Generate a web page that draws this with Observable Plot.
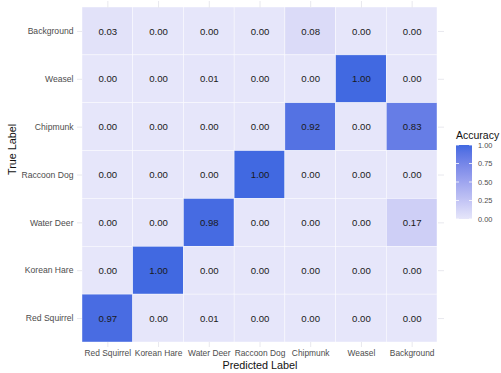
<!DOCTYPE html>
<html>
<head>
<meta charset="utf-8">
<script src="https://cdn.jsdelivr.net/npm/d3@7"></script>
<script src="https://cdn.jsdelivr.net/npm/@observablehq/plot@0.6"></script>
<style>
  html, body { margin: 0; padding: 0; background: #fff; }
  #chart { width: 501px; height: 373px; }
  svg { font-family: Arial, "Liberation Sans", Helvetica, sans-serif; }
</style>
</head>
<body>
<div id="chart"></div>
<script>
// Predicted classes (columns) and true classes (rows, top to bottom)
const predictedLabels = ["Red Squirrel", "Korean Hare", "Water Deer", "Raccoon Dog", "Chipmunk", "Weasel", "Background"];
const trueLabels = ["Background", "Weasel", "Chipmunk", "Raccoon Dog", "Water Deer", "Korean Hare", "Red Squirrel"];

// Accuracy per true class, one row each, in predicted-label order
const rowBackground  = [0.03, 0.00, 0.00, 0.00, 0.08, 0.00, 0.00];
const rowWeasel      = [0.00, 0.00, 0.01, 0.00, 0.00, 1.00, 0.00];
const rowChipmunk    = [0.00, 0.00, 0.00, 0.00, 0.92, 0.00, 0.83];
const rowRaccoonDog  = [0.00, 0.00, 0.00, 1.00, 0.00, 0.00, 0.00];
const rowWaterDeer   = [0.00, 0.00, 0.98, 0.00, 0.00, 0.00, 0.17];
const rowKoreanHare  = [0.00, 1.00, 0.00, 0.00, 0.00, 0.00, 0.00];
const rowRedSquirrel = [0.97, 0.00, 0.01, 0.00, 0.00, 0.00, 0.00];

const legendTicks = [0, 0.25, 0.5, 0.75, 1];

const rows = [rowBackground, rowWeasel, rowChipmunk, rowRaccoonDog, rowWaterDeer, rowKoreanHare, rowRedSquirrel];
const cells = [];
rows.forEach((row, i) => row.forEach((v, j) => cells.push({truth: trueLabels[i], pred: predictedLabels[j], value: v})));

const W = 501, H = 373;
const gridColor = "#e8e8ee";

const plot = Plot.plot({
  width: W,
  height: H,
  marginLeft: 82,
  marginRight: 64,
  marginTop: 7,
  marginBottom: 31,
  style: {fontFamily: "Arial, 'Liberation Sans', Helvetica, sans-serif", background: "#fff"},
  x: {domain: predictedLabels, padding: 0, round: false, axis: null},
  y: {domain: trueLabels, padding: 0, round: false, axis: null},
  color: {type: "linear", domain: [0, 1], range: ["#E6E6FA", "#4169E1"], interpolate: "lab"},
  marks: [
    Plot.cell(cells, {x: "pred", y: "truth", fill: "value", stroke: "white", strokeWidth: 0.6, strokeOpacity: 0.7}),
    Plot.text(cells, {x: "pred", y: "truth", text: d => d.value.toFixed(2), fill: "#1a1a1a", fontSize: 9.6}),
    Plot.axisX({anchor: "bottom", tickSize: 5, tickPadding: 3, stroke: gridColor, color: "#4d4d4d", fontSize: 8.4, label: null}),
    Plot.axisX({anchor: "top", tickSize: 7, stroke: gridColor, text: null, label: null}),
    Plot.axisY({anchor: "left", tickSize: 5, tickPadding: 4, stroke: gridColor, color: "#4d4d4d", fontSize: 8.6, label: null}),
    Plot.axisY({anchor: "right", tickSize: 6, stroke: gridColor, text: null, label: null}),
    Plot.text(["Predicted Label"], {frameAnchor: "bottom", dy: 26, fontSize: 10.8, fill: "#111"}),
    Plot.text(["True Label"], {frameAnchor: "left", dx: -70, rotate: -90, fontSize: 10.8, fill: "#111"})
  ]
});

document.getElementById("chart").appendChild(plot);

// Vertical colour bar legend drawn from the plot's own colour scale
const colorScale = plot.scale("color");
const color = d3.scaleLinear().domain(colorScale.domain).range(colorScale.range).interpolate(d3.interpolateLab);
const svg = d3.select(plot);
const barX = 456, barY = 145, barW = 16, barH = 74;
const yLeg = d3.scaleLinear().domain([0, 1]).range([barY + barH, barY]);

const defs = svg.append("defs");
const grad = defs.append("linearGradient").attr("id", "acc-grad").attr("x1", 0).attr("y1", 1).attr("x2", 0).attr("y2", 0);
d3.range(0, 1.0001, 0.1).forEach(t => grad.append("stop").attr("offset", t).attr("stop-color", color(t)));

const leg = svg.append("g").attr("text-anchor", "start");
leg.append("text").attr("x", barX).attr("y", barY - 6).attr("font-size", 10.5).attr("fill", "#111").text("Accuracy");
leg.append("rect").attr("x", barX).attr("y", barY).attr("width", barW).attr("height", barH).attr("fill", "url(#acc-grad)");
legendTicks.forEach(t => {
  const y = yLeg(t);
  leg.append("line").attr("x1", barX).attr("x2", barX + 3).attr("y1", y).attr("y2", y).attr("stroke", "white").attr("stroke-width", 0.8);
  leg.append("line").attr("x1", barX + barW - 3).attr("x2", barX + barW).attr("y1", y).attr("y2", y).attr("stroke", "white").attr("stroke-width", 0.8);
  leg.append("text").attr("x", barX + barW + 6).attr("y", y).attr("dy", "0.35em").attr("font-size", 7.4).attr("fill", "#4d4d4d").text(t.toFixed(2));
});
</script>
</body>
</html>
